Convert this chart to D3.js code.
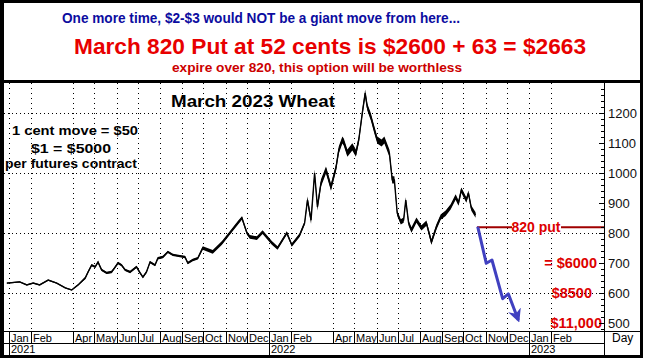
<!DOCTYPE html>
<html><head><meta charset="utf-8">
<script src="https://cdn.jsdelivr.net/npm/d3@7"></script>
<style>html,body{margin:0;padding:0;background:#fff}svg{display:block}text{font-family:"Liberation Sans",Arial,sans-serif}</style>
</head><body>
<script>
// ---- data ----
const priceDates = ["2020-12-29","2021-01-16","2021-01-26","2021-02-04","2021-02-13","2021-02-25","2021-03-09","2021-03-21","2021-03-30","2021-04-08","2021-04-18","2021-04-22","2021-04-27","2021-05-02","2021-05-06","2021-05-11","2021-05-18","2021-05-25","2021-05-29","2021-06-03","2021-06-08","2021-06-13","2021-06-20","2021-06-29","2021-07-04","2021-07-08","2021-07-13","2021-07-18","2021-07-25","2021-07-29","2021-08-05","2021-08-12","2021-08-19","2021-08-29","2021-09-05","2021-09-09","2021-09-16","2021-09-23","2021-09-30","2021-10-14","2021-10-27","2021-11-07","2021-11-18","2021-11-24","2021-12-01","2021-12-05","2021-12-15","2021-12-23","2022-01-05","2022-01-13","2022-01-26","2022-02-02","2022-02-13","2022-02-20","2022-02-24","2022-03-01","2022-03-06","2022-03-10","2022-03-15","2022-03-22","2022-03-29","2022-04-05","2022-04-09","2022-04-14","2022-04-16","2022-04-21","2022-04-28","2022-05-03","2022-05-07","2022-05-12","2022-05-16","2022-05-19","2022-05-24","2022-05-29","2022-06-02","2022-06-08","2022-06-12","2022-06-19","2022-06-23","2022-06-26","2022-06-30","2022-07-05","2022-07-09","2022-07-12","2022-07-16","2022-07-20","2022-07-27","2022-08-03","2022-08-10","2022-08-17","2022-08-24","2022-08-30","2022-09-06","2022-09-13","2022-09-20","2022-09-24","2022-09-28","2022-10-05","2022-10-08","2022-10-12","2022-10-18"];
const priceValues = [634,638,628,634,628,644,634,618,611,628,651,671,694,688,704,678,668,671,684,701,694,678,671,688,668,654,671,704,694,717,721,738,728,724,721,701,711,717,751,738,768,801,834,851,801,788,784,804,768,751,801,761,794,834,911,844,1001,888,968,1011,954,1018,1078,1111,1104,1067,1088,1067,1111,1201,1267,1221,1188,1144,1111,1101,1111,1067,978,978,867,838,844,911,834,811,844,818,834,771,821,854,867,888,921,901,944,911,934,884,861];
// approximate half of the daily bar range (cents) around each reading
const priceHalfRange = [2,2,2,2,2,2,2,2,2,2,4,4,4,4,4,4,4,4,4,4,4,4,4,4,4,4,4,4,4,4,4,4,4,4,4,4,4,4,6,6,6,6,6,6,6,6,6,6,6,6,6,6,6,6,12,12,12,12,12,12,12,12,12,12,12,12,12,12,12,12,12,12,12,12,12,12,12,12,12,12,9,9,9,9,9,9,9,9,9,9,9,9,9,9,9,9,9,9,9,9,9];
const projDates = ["2022-10-21","2022-11-02","2022-11-10","2022-11-25","2022-12-03","2022-12-17"];
const projValues = [822,700,711,582,598,511];
const putStrike = 820;
const putStart = "2022-10-20";
const monthStarts = ["2021-01","2021-02","2021-04","2021-05","2021-06","2021-07","2021-08","2021-09","2021-10","2021-11","2021-12","2022-01","2022-02","2022-04","2022-05","2022-06","2022-07","2022-08","2022-09","2022-10","2022-11","2022-12","2023-01","2023-02"];
const monthLabels = ["Jan","Feb","Apr","May","Jun","Jul","Aug","Sep","Oct","Nov","Dec","Jan","Feb","Apr","May","Jun","Jul","Aug","Sep","Oct","Nov","Dec","Jan","Feb"];
const yearStarts = ["2021-01","2022-01","2023-01"];
const yearLabels = ["2021","2022","2023"];
const yTicks = [500,600,700,800,900,1000,1100,1200];
const yGrid = [600,800,1000,1200];
const payoffLabels = ["= $6000","$8500","$11,000"];
const payoffLevels = [700,600,500];
const headline1 = "One more time, $2-$3 would NOT be a giant move from here...";
const headline2 = "March 820 Put at 52 cents is $2600 + 63 = $2663";
const headline3 = "expire over 820, this option will be worthless";
const chartTitle = "March 2023 Wheat";
const noteLines = ["1 cent move = $50","$1 = $5000","per futures contract"];

// ---- layout ----
const W = 646, H = 360;
const plotL = 4, plotR = 604, plotT = 83, plotB = 331;
const pd = d3.timeParse("%Y-%m-%d"), pm = d3.timeParse("%Y-%m");
const x = d3.scaleTime().domain([new Date(2021,0,1), new Date(2023,0,1)]).range([9,529]);
const y = d3.scaleLinear().domain([500,1200]).range([323.3,113.3]);

const svg = d3.select("body").append("svg").attr("width",W).attr("height",H);
svg.append("rect").attr("width",W).attr("height",H).attr("fill","#fff");
const defs = svg.append("defs");
defs.append("clipPath").attr("id","plotclip").append("rect")
  .attr("x",plotL).attr("y",plotT).attr("width",plotR-plotL).attr("height",plotB-plotT);
defs.append("marker").attr("id","arrow").attr("viewBox","0 0 10 10").attr("refX",8).attr("refY",5)
  .attr("markerWidth",4.5).attr("markerHeight",4.5).attr("orient","auto")
  .append("path").attr("d","M0,0 L10,5 L0,10 L3,5 z").attr("fill","#4040c0");

// header
svg.append("text").attr("x",261).attr("y",23).attr("text-anchor","middle").attr("font-size",15.5).attr("font-weight","bold")
  .attr("fill","#0c0ca0").attr("textLength",398).attr("lengthAdjust","spacingAndGlyphs").text(headline1);
svg.append("text").attr("x",330).attr("y",54).attr("text-anchor","middle").attr("font-size",21.5).attr("font-weight","bold")
  .attr("fill","#e80000").attr("textLength",512).attr("lengthAdjust","spacingAndGlyphs").text(headline2);
svg.append("text").attr("x",317).attr("y",72).attr("text-anchor","middle").attr("font-size",12.5).attr("font-weight","bold")
  .attr("fill","#cc0000").attr("textLength",290).attr("lengthAdjust","spacingAndGlyphs").text(headline3);

// grid
const g = svg.append("g");
g.selectAll(".hg").data(yGrid).join("line")
  .attr("x1",plotL).attr("x2",plotR).attr("y1",d=>Math.round(y(d))+0.5).attr("y2",d=>Math.round(y(d))+0.5)
  .attr("stroke","#000").attr("stroke-width",1).attr("stroke-dasharray","1,3");
g.selectAll(".vg").data(monthStarts).join("line")
  .attr("x1",d=>Math.round(x(pm(d)))+0.5).attr("x2",d=>Math.round(x(pm(d)))+0.5)
  .attr("y1",plotT).attr("y2",plotB)
  .attr("stroke","#000").attr("stroke-width",1).attr("stroke-dasharray","1,4");

// title & notes
svg.append("text").attr("x",253).attr("y",107).attr("text-anchor","middle").attr("font-size",16.5).attr("font-weight","bold")
  .attr("fill","#000").attr("textLength",164).attr("lengthAdjust","spacingAndGlyphs").text(chartTitle);
const noteX = [75,71,71], noteY = [135,153,168], noteW = [126,80,132];
noteLines.forEach((t,i)=>svg.append("text").attr("x",noteX[i]).attr("y",noteY[i]).attr("text-anchor","middle")
  .attr("font-size",13).attr("font-weight","bold").attr("fill","#000")
  .attr("textLength",noteW[i]).attr("lengthAdjust","spacingAndGlyphs").text(t));

// price bars (range ribbon) and line
const pts = priceDates.map((d,i)=>({t:pd(d),v:priceValues[i],r:priceHalfRange[i]}));
svg.append("path").attr("clip-path","url(#plotclip)").datum(pts)
  .attr("d",d3.area().x(d=>x(d.t)).y0(d=>y(d.v-d.r)).y1(d=>y(d.v+d.r)))
  .attr("fill","#000");
svg.append("path").attr("clip-path","url(#plotclip)").datum(pts)
  .attr("d",d3.line().x(d=>x(d.t)).y(d=>y(d.v)))
  .attr("fill","none").attr("stroke","#000").attr("stroke-width",1.4);

// put line
const putY = y(putStrike);
svg.append("line").attr("x1",x(pd(putStart))).attr("x2",plotR).attr("y1",putY).attr("y2",putY)
  .attr("stroke","#a00000").attr("stroke-width",2);
svg.append("rect").attr("x",512).attr("y",putY-7).attr("width",49).attr("height",13).attr("fill","#fff");
svg.append("text").attr("x",536).attr("y",putY+5).attr("text-anchor","middle").attr("font-size",14).attr("font-weight","bold").attr("fill","#dd0000").text("820 put");

// projection arrow
const proj = projDates.map((d,i)=>[pd(d),projValues[i]]);
svg.append("path").datum(proj).attr("d",d3.line().x(d=>x(d[0])).y(d=>y(d[1])))
  .attr("fill","none").attr("stroke","#4040c0").attr("stroke-width",3).attr("stroke-linejoin","round").attr("marker-end","url(#arrow)");

// payoff labels
const payX = [597,592,602];
payoffLabels.forEach((t,i)=>svg.append("text").attr("x",payX[i]).attr("y",y(payoffLevels[i])+5).attr("text-anchor","end")
  .attr("font-size",14.5).attr("font-weight","bold").attr("fill","#dd0000").text(t));

// right axis
const ax = svg.append("g");
ax.append("line").attr("x1",plotR+0.5).attr("x2",plotR+0.5).attr("y1",plotT).attr("y2",355).attr("stroke","#000");
const minor = d3.range(480,1301,20).filter(v=>y(v)>plotT+1 && y(v)<plotB);
ax.selectAll(".mt").data(minor).join("line")
  .attr("x1",d=>d%100===0?plotR-5:plotR-3).attr("x2",plotR).attr("y1",d=>Math.round(y(d))+0.5).attr("y2",d=>Math.round(y(d))+0.5)
  .attr("stroke","#000");
ax.selectAll(".yl").data(yTicks).join("text")
  .attr("x",608).attr("y",d=>y(d)+4.5).attr("font-size",13).attr("fill","#111").text(d=>d);

// x axis rows
ax.append("line").attr("x1",plotL).attr("x2",640).attr("y1",plotB+0.5).attr("y2",plotB+0.5).attr("stroke","#000");
ax.append("line").attr("x1",plotL).attr("x2",plotR).attr("y1",343.5).attr("y2",343.5).attr("stroke","#000");
ax.selectAll(".ms").data(monthStarts).join("line")
  .attr("x1",d=>Math.round(x(pm(d)))+0.5).attr("x2",d=>Math.round(x(pm(d)))+0.5)
  .attr("y1",plotB).attr("y2",343).attr("stroke","#000");
ax.selectAll(".ml").data(monthStarts).join("text")
  .attr("x",d=>Math.round(x(pm(d)))+2).attr("y",341.5).attr("font-size",11).attr("fill","#000")
  .text((d,i)=>monthLabels[i]);
ax.selectAll(".ys").data(yearStarts).join("line")
  .attr("x1",d=>Math.round(x(pm(d)))+0.5).attr("x2",d=>Math.round(x(pm(d)))+0.5)
  .attr("y1",343).attr("y2",355).attr("stroke","#000");
ax.selectAll(".yrl").data(yearStarts).join("text")
  .attr("x",d=>Math.round(x(pm(d)))+2).attr("y",353).attr("font-size",11).attr("fill","#000")
  .text((d,i)=>yearLabels[i]);
ax.append("text").attr("x",612).attr("y",342).attr("font-size",12).attr("fill","#000").text("Day");

// frame
const fr = svg.append("g").attr("fill","#000");
fr.append("rect").attr("x",0).attr("y",0).attr("width",643).attr("height",3);
fr.append("rect").attr("x",0).attr("y",0).attr("width",4).attr("height",358);
fr.append("rect").attr("x",640).attr("y",0).attr("width",3).attr("height",358);
fr.append("rect").attr("x",0).attr("y",355).attr("width",643).attr("height",3);
fr.append("rect").attr("x",0).attr("y",80).attr("width",643).attr("height",3);
</script>
</body></html>
